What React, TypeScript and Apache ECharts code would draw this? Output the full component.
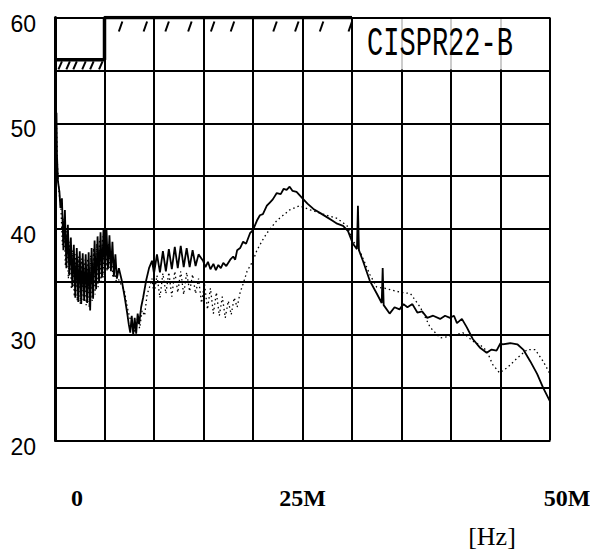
import React, { useEffect, useRef } from "react";
import * as echarts from "echarts";

// ---- data (frequency in MHz, level in dB) ----
const yTickLabels = [20, 30, 40, 50, 60];
const xTickValues = [0, 25, 50];
const xTickTexts = ["0", "25M", "50M"];
const unitLabel = "[Hz]";
const standardLabel = "CISPR22-B";

const limitLine: [number, number][] = [
  [0.15, 56], [5, 56], [5, 60], [30, 60],
];
const hatchUpper = [6.6, 9.1, 11.3, 13.6, 15.9, 17.9, 22.2, 24.4, 26.9, 29.8];
const hatchLower = [0.5, 1.3, 2.0, 2.9, 3.7, 4.6];

const solidTrace: [number, number][] = [
  [0.15, 51], [0.2, 47], [0.3, 44.5], [0.45, 43.5], [0.55, 42], [0.7, 42.9], [0.85, 38.0], [1.0, 41.8],
  [1.15, 36.3], [1.3, 40.4], [1.45, 35.6], [1.6, 39.2], [1.75, 34.5], [1.9, 38.5], [2.05, 33.5], [2.2, 38.2],
  [2.35, 33.1], [2.5, 37.9], [2.65, 32.9], [2.8, 37.7], [2.95, 33.2], [3.1, 37.6], [3.25, 33.0], [3.4, 37.8],
  [3.55, 32.3], [3.7, 38.2], [3.85, 33.4], [4.0, 38.9], [4.15, 34.3], [4.3, 39.3], [4.45, 35.0], [4.6, 39.7],
  [4.75, 35.4], [4.9, 40.1], [5.05, 35.9], [5.2, 40.0], [5.35, 36.2], [5.5, 39.4], [5.65, 36.0], [5.8, 38.8],
  [5.95, 35.5], [6.1, 37.6], [6.25, 35.3], [6.45, 36.3], [6.75, 35.1], [7.05, 33.5], [7.3, 32.0], [7.45, 31.0],
  [7.6, 30.2], [7.75, 31.8], [7.9, 30.0], [8.05, 31.6], [8.2, 30.1], [8.35, 32.0], [8.5, 31.0], [8.7, 32.6],
  [8.9, 33.5], [9.2, 35.1], [9.5, 36.3], [9.8, 37.0], [10.0, 35.8], [10.3, 37.6], [10.6, 35.9], [10.9, 37.9],
  [11.2, 36.0], [11.5, 38.1], [11.8, 36.2], [12.1, 38.3], [12.4, 36.3], [12.7, 38.4], [13.0, 36.4], [13.3, 38.2],
  [13.6, 36.4], [13.9, 38.0], [14.2, 36.5], [14.5, 37.6], [14.95, 37.0], [15.2, 36.4], [15.45, 36.9], [15.7, 36.2],
  [16.0, 36.7], [16.25, 36.1], [16.5, 36.6], [16.75, 36.3], [17.0, 36.8], [17.3, 36.5], [17.7, 37.1], [18.0, 37.4],
  [18.2, 37.1], [18.4, 38.0], [18.7, 38.2], [19.0, 38.8], [19.3, 38.6], [19.7, 39.6], [20.0, 39.9], [20.4, 40.8],
  [20.7, 41.3], [21.0, 41.4], [21.4, 42.2], [21.7, 42.5], [22.0, 42.8], [22.4, 43.4], [22.8, 43.3], [23.1, 43.8],
  [23.4, 43.7], [23.7, 44.0], [24.0, 43.6], [24.4, 43.5], [24.7, 43.2], [25.0, 42.9], [25.5, 42.4], [26.1, 41.9],
  [26.8, 41.5], [27.5, 41.1], [28.0, 40.8], [28.5, 40.5], [29.1, 40.3], [29.6, 39.8], [30.1, 38.6], [30.5, 38.1],
  [30.6, 42.2], [30.7, 38.0], [31.1, 37.0], [31.8, 35.1], [32.5, 33.9], [33.0, 33.0], [33.1, 36.3], [33.2, 32.8],
  [33.8, 32.0], [34.3, 32.6], [34.8, 32.4], [35.2, 32.9], [35.6, 32.6], [36.1, 32.9], [36.6, 32.1], [37.1, 32.2],
  [37.6, 31.6], [38.2, 31.8], [38.9, 31.5], [39.4, 31.8], [39.9, 31.6], [40.3, 31.8], [40.6, 31.1], [41.1, 31.5],
  [41.6, 30.7], [42.2, 29.6], [42.9, 28.8], [43.6, 28.3], [44.1, 28.6], [44.6, 28.5], [45.0, 29.2], [45.2, 29.1],
  [46.0, 29.2], [46.7, 29.1], [47.3, 28.6], [48.0, 27.5], [48.7, 26.3], [49.3, 25.0], [50, 23.7],
];

const dottedTrace: [number, number][] = [
  [0.15, 50], [0.25, 46], [0.4, 43.5], [0.6, 42], [0.75, 38.5], [0.9, 41], [1.05, 36.5], [1.2, 39.8],
  [1.35, 35.3], [1.5, 38.8], [1.65, 34.3], [1.8, 38], [1.95, 33.6], [2.1, 37.6], [2.25, 33.2], [2.4, 37.4],
  [2.55, 32.9], [2.7, 37.2], [2.85, 33.3], [3.0, 37.1], [3.15, 32.8], [3.3, 37.2], [3.45, 32.6], [3.6, 37.5],
  [3.75, 33.2], [3.9, 38.2], [4.05, 33.8], [4.2, 38.6], [4.35, 34.5], [4.5, 39.0], [4.65, 35.0], [4.8, 39.3],
  [4.95, 35.4], [5.1, 39.2], [5.25, 36.0], [5.4, 38.6], [5.55, 36.3], [5.7, 37.6], [5.85, 35.4], [6.0, 36.0],
  [6.2, 35.0], [6.45, 35.2], [6.7, 34.7], [7.0, 34.2], [7.3, 32.6], [7.55, 31.6], [7.8, 31.2], [8.05, 30.3],
  [8.3, 31.5], [8.55, 30.6], [8.8, 32.3], [9.05, 31.8], [9.3, 33.8], [9.55, 34.5], [9.8, 35.3], [10.0, 33.8],
  [10.3, 35.6], [10.6, 33.5], [10.9, 35.8], [11.2, 33.9], [11.5, 35.9], [11.8, 33.6], [12.1, 36.0], [12.4, 34.0],
  [12.7, 36.0], [13.0, 33.8], [13.3, 35.9], [13.6, 34.1], [13.9, 35.7], [14.2, 33.9], [14.5, 35.3], [14.8, 33.0],
  [15.1, 34.8], [15.4, 32.4], [15.7, 34.4], [16.0, 32.0], [16.3, 34.0], [16.6, 31.8], [16.9, 33.6], [17.2, 31.6],
  [17.5, 33.2], [17.8, 31.9], [18.1, 33.5], [18.4, 32.6], [18.7, 34.0], [19.0, 34.8], [19.4, 36.0], [20.0, 37.0],
  [20.4, 38.0], [21.0, 39.0], [21.4, 39.6], [22.4, 40.8], [23.7, 41.8], [24.7, 42.2], [25.8, 41.8], [27.1, 41.4],
  [28.5, 41.0], [29.5, 40.3], [30.1, 38.9], [30.8, 37.9], [31.8, 35.7], [32.5, 34.5], [33.3, 34.4], [34.1, 34.2],
  [35.0, 34.0], [35.9, 33.9], [36.9, 32.6], [37.9, 30.7], [38.9, 29.7], [39.6, 29.8], [40.2, 29.9], [41.2, 30.2],
  [42.2, 29.4], [43.0, 29.0], [43.6, 28.5], [44.2, 27.2], [44.9, 26.4], [45.7, 26.9], [46.7, 27.8], [47.7, 28.6],
  [48.5, 28.6], [49.3, 27.5], [50, 26.3],
];

export default function App() {
  const ref = useRef<HTMLDivElement>(null);

  useEffect(() => {
    if (!ref.current) return;
    const chart = echarts.init(ref.current, undefined, { renderer: "svg" });

    const xRichKeys = ["a", "b", "c"];
    const xFont = { fontFamily: "Liberation Serif", fontSize: 24, fontWeight: "bold" as const, color: "#000", lineHeight: 24 };
    const yFont = { fontFamily: "Liberation Sans", fontSize: 23, color: "#000", lineHeight: 23 };

    const hatch = (top: number, bottom: number) => (params: any, api: any) => {
      const p = api.coord([api.value(0), api.value(1)]);
      return {
        type: "line",
        shape: { x1: p[0] + 2, y1: p[1] + top, x2: p[0] - 1.5, y2: p[1] + bottom },
        style: { stroke: "#000", lineWidth: 2 },
      };
    };

    chart.setOption({
      animation: false,
      backgroundColor: "#fff",
      grid: { left: 55, right: 40, top: 17.5, bottom: 109.5, outerBoundsMode: "none" },
      xAxis: {
        type: "value",
        min: 0,
        max: 50,
        interval: 5,
        axisLine: { show: true, lineStyle: { color: "#000", width: 1.5 } },
        axisTick: { show: false },
        splitLine: { show: true, lineStyle: { color: "#000", width: 2 } },
        axisLabel: {
          margin: 45,
          showMinLabel: true,
          showMaxLabel: true,
          ...xFont,
          formatter: (v: number) => {
            const i = xTickValues.indexOf(v);
            if (i < 0) return "";
            return `{${xRichKeys[i]}|${xTickTexts[i]}}`;
          },
          rich: {
            a: { ...xFont, padding: [0, 0, 0, 44] },
            b: { ...xFont },
            c: { ...xFont, padding: [0, 0, 0, 34] },
          },
        },
      },
      yAxis: {
        type: "value",
        min: 20,
        max: 60,
        interval: 5,
        axisLine: { show: true, lineStyle: { color: "#000", width: 3 } },
        axisTick: { show: false },
        splitLine: { show: true, lineStyle: { color: "#000", width: 2 } },
        axisLabel: {
          margin: 19,
          showMinLabel: true,
          showMaxLabel: true,
          ...yFont,
          formatter: (v: number) => (yTickLabels.includes(v) ? `{v|${v}}` : ""),
          rich: { v: { ...yFont, padding: [12, 0, 0, 0] } },
        },
      },
      series: [
        {
          type: "line",
          data: limitLine,
          showSymbol: false,
          lineStyle: { color: "#000", width: 3.5 },
          z: 4,
        },
        {
          type: "custom",
          data: hatchUpper.map((f) => [f, 60]),
          renderItem: hatch(4, 14),
          z: 4,
        },
        {
          type: "custom",
          data: hatchLower.map((f) => [f, 56]),
          renderItem: hatch(1.5, 9.5),
          z: 4,
        },
        {
          type: "line",
          data: dottedTrace,
          showSymbol: false,
          lineStyle: { color: "#000", width: 1.3, type: [1.5, 3] },
          z: 5,
        },
        {
          type: "line",
          data: solidTrace,
          showSymbol: false,
          lineStyle: { color: "#000", width: 1.8 },
          z: 6,
        },
      ],
      graphic: [
        {
          type: "rect",
          z: 10,
          shape: { x: 353.5, y: 19, width: 195, height: 50.5 },
          style: { fill: "rgba(255,255,255,0.8)" },
        },
        {
          type: "text",
          z: 11,
          x: 440,
          y: 44,
          scaleY: 1.5,
          style: {
            text: standardLabel,
            fontFamily: "Liberation Mono",
            fontSize: 27,
            fill: "#000",
            align: "center",
            verticalAlign: "middle",
          },
        },
        {
          type: "text",
          z: 11,
          x: 492,
          y: 536,
          style: {
            text: unitLabel,
            fontFamily: "Liberation Serif",
            fontSize: 26,
            fill: "#000",
            align: "center",
            verticalAlign: "middle",
          },
        },
      ],
    });

    return () => chart.dispose();
  }, []);

  return (
    <div
      ref={ref}
      style={{ position: "fixed", left: 0, top: 0, width: 590, height: 550, background: "#fff" }}
    />
  );
}
